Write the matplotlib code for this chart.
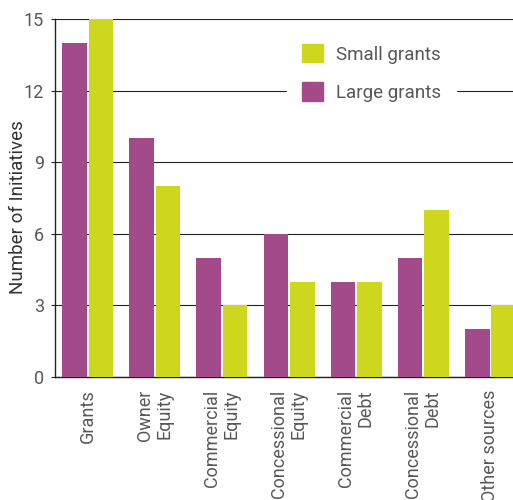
import matplotlib
matplotlib.use("Agg")
import matplotlib.pyplot as plt
import numpy as np
from matplotlib.patches import Patch

categories = ["Grants", "Owner\nEquity", "Commercial\nEquity", "Concessional\nEquity",
              "Commercial\nDebt", "Concessional\nDebt", "Other sources"]
large_grants = [14, 10, 5, 6, 4, 5, 2]
small_grants = [15, 8, 3, 4, 4, 7, 3]
yticks = [0, 3, 6, 9, 12, 15]

purple = "#A34B8A"
green = "#CDD71E"
textc = "#585858"

plt.rcParams['font.family'] = ['Roboto', 'DejaVu Sans']

fig = plt.figure(figsize=(5.13, 5.0), dpi=100)
ax = fig.add_axes([55/513, 123/500, 458/513, 358/500])

x = np.arange(len(categories))
w = 0.37
ax.bar(x - 0.195, large_grants, w, color=purple, zorder=3)
ax.bar(x + 0.195, small_grants, w, color=green, zorder=3)

ax.set_xlim(-0.49, 6.34)
ax.set_ylim(0, 15)
ax.set_yticks(yticks)
ax.set_yticklabels([str(t) for t in yticks], fontsize=13, color=textc)
ax.yaxis.grid(True, color="#222222", linewidth=0.8, zorder=0)
ax.set_axisbelow(True)
ax.set_xticks(x)
ax.set_xticklabels(categories, rotation=90, fontsize=13, color=textc, ha="center", va="top",
                   multialignment="right", linespacing=1.1)
ax.tick_params(axis="x", length=0, pad=9)
ax.tick_params(axis="y", length=3, color="#222222", width=0.8, pad=5)
for s in ["top", "right"]:
    ax.spines[s].set_visible(False)
for s in ["left", "bottom"]:
    ax.spines[s].set_color("#222222")
    ax.spines[s].set_linewidth(1.0)
ax.set_ylabel("Number of Initiatives", fontsize=13.5, color="#333333")
ax.yaxis.set_label_coords(-0.061, 0.475)

handles = [Patch(color=green, label="Small grants"), Patch(color=purple, label="Large grants")]
leg = ax.legend(handles=handles, loc="upper left", bbox_to_anchor=(0.5066, 0.972),
                frameon=True, fontsize=13.5, handlelength=1.12, handleheight=1.12,
                labelspacing=1.0, handletextpad=0.7, borderpad=0.8, borderaxespad=0)
leg.get_frame().set_facecolor("white")
leg.get_frame().set_edgecolor("white")
leg.get_frame().set_alpha(1)
leg.set_zorder(5)
for t in leg.get_texts():
    t.set_color(textc)

fig.savefig("out.png", dpi=100)
